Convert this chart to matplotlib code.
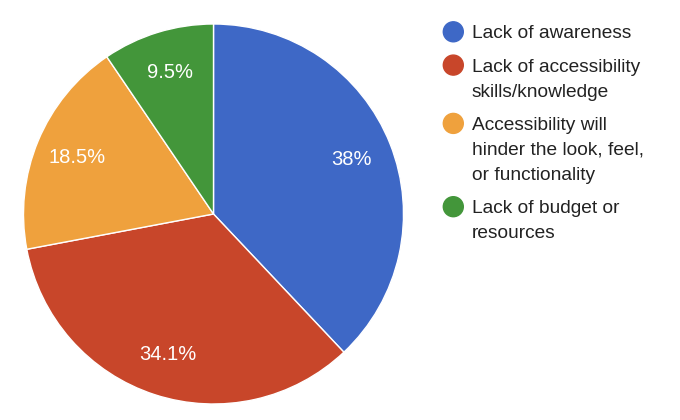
import matplotlib.pyplot as plt
from matplotlib.patches import Ellipse

plt.rcParams['font.family'] = ['Liberation Sans', 'DejaVu Sans']

categories = ["Lack of awareness",
              "Lack of accessibility\nskills/knowledge",
              "Accessibility will\nhinder the look, feel,\nor functionality",
              "Lack of budget or\nresources"]
values = [38.0, 34.1, 18.5, 9.5]
pct_labels = ["38%", "34.1%", "18.5%", "9.5%"]
colors = ["#3E68C6", "#C8462A", "#EFA13D", "#43963A"]

W, H = 680, 420
fig = plt.figure(figsize=(W / 100, H / 100), dpi=100)

# pie: center ~(213.5, 214) px from top, radius 190
cx, cy, r = 213.5, 214, 190
ax = fig.add_axes([(cx - r) / W, (H - cy - r) / H, 2 * r / W, 2 * r / H])
ax.pie(values, labels=pct_labels, colors=colors, startangle=90, counterclock=False,
       radius=1, labeldistance=0.78,
       wedgeprops=dict(edgecolor="white", linewidth=1),
       textprops=dict(color="white", fontsize=14.5, ha="center", va="center"))
ax.set_xlim(-1, 1)
ax.set_ylim(-1, 1)
ax.set_axis_off()

# legend drawn by hand, google charts style
base = 38.3
for cat, col in zip(categories, colors):
    lines = cat.split("\n")
    fig.patches.append(Ellipse((453.3 / W, (H - (base - 6.5)) / H), 20 / W, 20 / H,
                               transform=fig.transFigure, color=col))
    for i, line in enumerate(lines):
        fig.text(471.5 / W, (H - (base + 25 * i)) / H, line, fontsize=13.8,
                 color="#222222", va="baseline", ha="left")
    base += 25 * (len(lines) - 1) + 33.3

fig.savefig("out.png", dpi=100)
